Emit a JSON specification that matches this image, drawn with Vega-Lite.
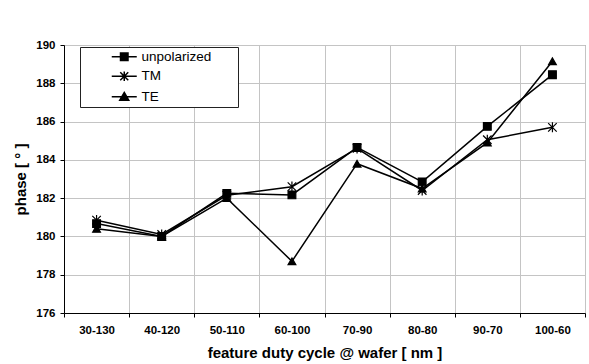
{
  "$schema": "https://vega.github.io/schema/vega-lite/v6.json",
  "autosize": {"type": "none"},
  "width": 521,
  "height": 268,
  "padding": {"left": 64, "top": 45, "right": 4, "bottom": 51},
  "background": "white",
  "config": {
    "font": "Liberation Sans",
    "view": {"stroke": "#808080", "strokeWidth": 1},
    "axis": {
      "labelFont": "Liberation Sans",
      "labelFontWeight": "bold",
      "labelFontSize": 11.5,
      "labelColor": "black",
      "titleFont": "Liberation Sans",
      "titleFontWeight": "bold",
      "titleFontSize": 15,
      "titleColor": "black",
      "domainColor": "black",
      "domainWidth": 1,
      "tickColor": "black",
      "tickSize": 4,
      "gridColor": "#c4c4c4",
      "gridWidth": 1
    }
  },
  "data": {
    "values": [
      {"cycle": "30-130", "series": "unpolarized", "phase": 180.67},
      {"cycle": "40-120", "series": "unpolarized", "phase": 180.0},
      {"cycle": "50-110", "series": "unpolarized", "phase": 182.25},
      {"cycle": "60-100", "series": "unpolarized", "phase": 182.17},
      {"cycle": "70-90", "series": "unpolarized", "phase": 184.65},
      {"cycle": "80-80", "series": "unpolarized", "phase": 182.85},
      {"cycle": "90-70", "series": "unpolarized", "phase": 185.75},
      {"cycle": "100-60", "series": "unpolarized", "phase": 188.45},
      {"cycle": "30-130", "series": "TM", "phase": 180.85},
      {"cycle": "40-120", "series": "TM", "phase": 180.1},
      {"cycle": "50-110", "series": "TM", "phase": 182.15},
      {"cycle": "60-100", "series": "TM", "phase": 182.6},
      {"cycle": "70-90", "series": "TM", "phase": 184.6},
      {"cycle": "80-80", "series": "TM", "phase": 182.4},
      {"cycle": "90-70", "series": "TM", "phase": 185.05},
      {"cycle": "100-60", "series": "TM", "phase": 185.7},
      {"cycle": "30-130", "series": "TE", "phase": 180.4},
      {"cycle": "40-120", "series": "TE", "phase": 180.0},
      {"cycle": "50-110", "series": "TE", "phase": 182.0},
      {"cycle": "60-100", "series": "TE", "phase": 178.7},
      {"cycle": "70-90", "series": "TE", "phase": 183.8},
      {"cycle": "80-80", "series": "TE", "phase": 182.5},
      {"cycle": "90-70", "series": "TE", "phase": 184.9},
      {"cycle": "100-60", "series": "TE", "phase": 189.15}
    ]
  },
  "encoding": {
    "x": {
      "field": "cycle",
      "type": "nominal",
      "sort": ["30-130", "40-120", "50-110", "60-100", "70-90", "80-80", "90-70", "100-60"],
      "scale": {"type": "band", "paddingInner": 0, "paddingOuter": 0},
      "axis": {
        "title": "feature duty cycle @ wafer [ nm ]",
        "labelAngle": 0,
        "tickBand": "extent",
        "grid": true,
        "labelPadding": 7,
        "titlePadding": 10
      }
    },
    "y": {
      "field": "phase",
      "type": "quantitative",
      "scale": {"domain": [176, 190], "nice": false, "zero": false},
      "axis": {
        "title": "phase [ ° ]",
        "values": [176, 178, 180, 182, 184, 186, 188, 190],
        "grid": true,
        "labelPadding": 5,
        "titlePadding": 7
      }
    }
  },
  "resolve": {"scale": {"shape": "independent"}, "legend": {"shape": "independent"}},
  "layer": [
    {
      "mark": {"type": "line", "color": "black", "strokeWidth": 1.5},
      "encoding": {"detail": {"field": "series"}}
    },
    {
      "mark": {"type": "point", "filled": true, "fill": "black", "stroke": "black", "strokeWidth": 1.2, "opacity": 1},
      "encoding": {
        "shape": {
          "field": "series",
          "type": "nominal",
          "scale": {
            "domain": ["unpolarized", "TM", "TE"],
            "range": ["square", "M0,-1.3V1.3M-1.1,-1.1L1.1,1.1M-1.1,1.1L1.1,-1.1", "triangle-up"]
          },
          "legend": null
        },
        "size": {"value": 60}
      }
    },
    {
      "description": "Invisible twin of the markers; it only feeds the line-and-marker legend keys.",
      "mark": {"type": "point", "filled": true, "fill": "black", "stroke": "black", "strokeWidth": 1.5, "opacity": 0},
      "encoding": {
        "shape": {
          "field": "series",
          "type": "nominal",
          "scale": {
            "domain": ["unpolarized", "TM", "TE"],
            "range": [
              "M-2.5,0H2.5M-0.75,-0.75H0.75V0.75H-0.75ZM21.5,0",
              "M-2.5,0H2.5M0,-0.95V0.95M-0.8,-0.8L0.8,0.8M-0.8,0.8L0.8,-0.8M21.5,0",
              "M-2.5,0H2.5M0,-0.85L0.9,0.7H-0.9ZM21.5,0"
            ]
          },
          "legend": {
            "title": null,
            "orient": "none",
            "legendX": 16,
            "legendY": 2,
            "fillColor": "white",
            "strokeColor": "#222222",
            "padding": 3,
            "symbolSize": 100,
            "symbolOffset": 34.5,
            "labelOffset": 10.5,
            "rowPadding": 4.5,
            "labelFont": "Liberation Sans",
            "labelFontSize": 13.5,
            "labelColor": "black",
            "encode": {
              "symbols": {
                "fill": {"value": "black"},
                "stroke": {"value": "black"},
                "strokeWidth": {"value": 1.5},
                "opacity": {"value": 1}
              }
            }
          }
        },
        "size": {"value": 100}
      }
    }
  ]
}
